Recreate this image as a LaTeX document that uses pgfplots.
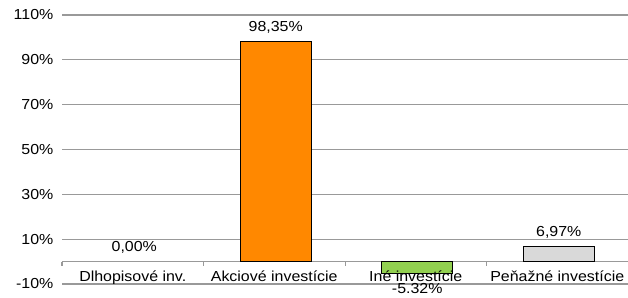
\documentclass[border=0pt]{standalone}
\usepackage{pgfplots}
\pgfplotsset{compat=1.18}
\usepackage{fontspec}
\setmainfont[FakeStretch=1.1]{Liberation Sans}
\definecolor{gridgray}{HTML}{999999}
\definecolor{barorange}{HTML}{FF8800}
\definecolor{bargreen}{HTML}{92D050}
\definecolor{bargray}{HTML}{D9D9D9}
\begin{document}
\begin{tikzpicture}[cat/.style={anchor=north, font=\fontsize{14.5}{16}\selectfont, inner sep=0pt, yshift=-9pt}]
\begin{axis}[
  scale only axis,
  width=566pt, height=269pt,
  xmin=-0.5, xmax=3.5,
  ymin=-10, ymax=110,
  ytick={-10,10,30,50,70,90,110},
  yticklabel={\pgfmathprintnumber{\tick}\%},
  /pgf/number format/assume math mode=true,
  xtick=\empty,
  axis lines=left,
  axis line style={draw=none},
  tick style={draw=none},
  ymajorgrids,
  grid style={gridgray, line width=1.2pt},
  ticklabel style={font=\fontsize{14.5}{16}\selectfont},
  yticklabel style={xshift=-3pt},
  ybar, bar shift=1.5pt, bar width=0.5,
  nodes near coords,
  point meta=explicit symbolic,
  every node near coord/.append style={font=\fontsize{14.5}{16}\selectfont, inner sep=7pt},
  clip=false,
]
\draw[gridgray, line width=1.2pt] (axis cs:-0.5,0) -- (axis cs:3.5,0);
\draw[gridgray, line width=1pt] (axis cs:-0.5,0) -- ++(0pt,-4pt);
\draw[gridgray, line width=1pt] (axis cs:0.5,0) -- ++(0pt,-4pt);
\draw[gridgray, line width=1pt] (axis cs:1.5,0) -- ++(0pt,-4pt);
\draw[gridgray, line width=1pt] (axis cs:2.5,0) -- ++(0pt,-4pt);
\draw[gridgray, line width=1pt] (axis cs:3.5,0) -- ++(0pt,-4pt);
\addplot[draw=black, line width=0.9pt, fill=white, draw opacity=0, fill opacity=0, text opacity=1,
  every node near coord/.append style={inner sep=8pt}] table[meta=lab] {
x y lab
0 0 {0,00\%}
};
\addplot[draw=black, line width=0.9pt, fill=barorange] table[meta=lab] {
x y lab
1 98.35 {98,35\%}
};
\addplot[draw=black, line width=0.9pt, fill=bargreen,
  every node near coord/.append style={anchor=north, inner sep=4pt, yshift=-5pt}] table[meta=lab] {
x y lab
2 -5.32 {-5.32\%}
};
\addplot[draw=black, line width=0.9pt, fill=bargray] table[meta=lab] {
x y lab
3 6.97 {6,97\%}
};
\node[cat] at (axis cs:0,0) {Dlhopisové inv.};
\node[cat] at (axis cs:1,0) {Akciové investície};
\node[cat] at (axis cs:2,0) {Iné investície};
\node[cat] at (axis cs:3,0) {Peňažné investície};
\end{axis}
\pgfresetboundingbox
\useasboundingbox (-62pt,-13pt) rectangle (566pt,284pt);
\end{tikzpicture}
\end{document}
